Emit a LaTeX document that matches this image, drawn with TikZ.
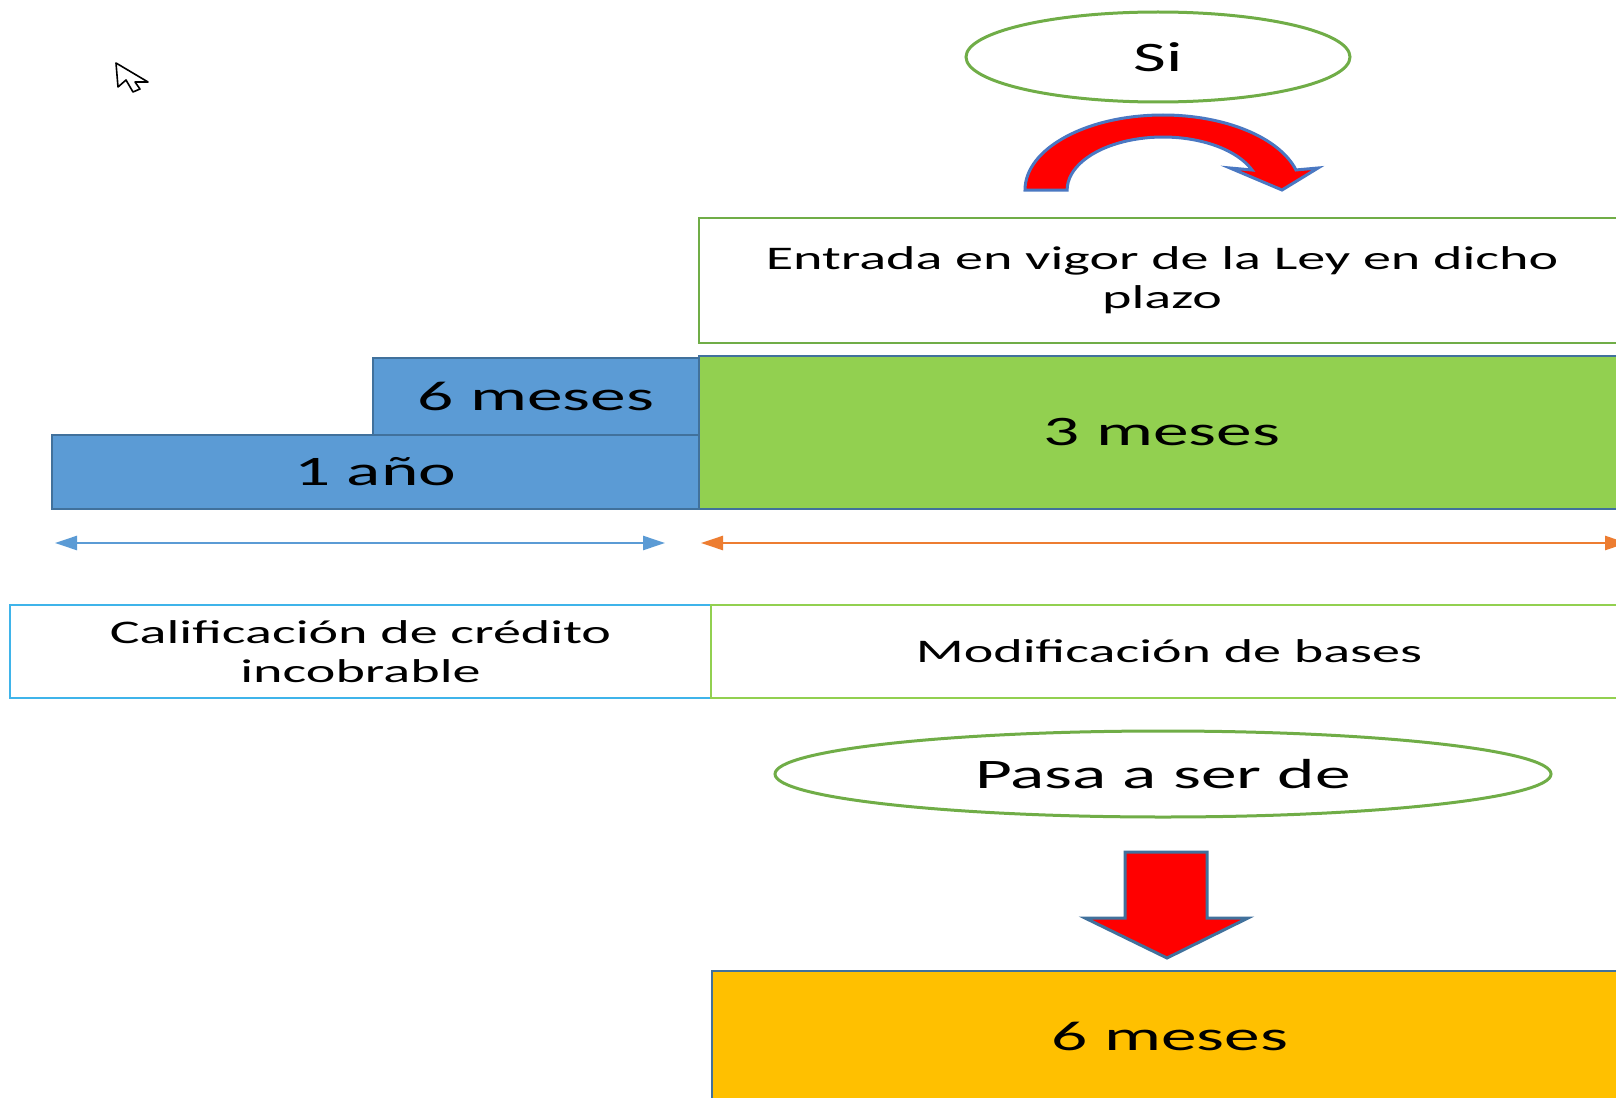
\documentclass[tikz,border=0pt]{standalone}
\usepackage{fontspec}
\setmainfont{Carlito}[FakeStretch=1.7]
\usetikzlibrary{arrows.meta,shapes.geometric}
\definecolor{blueF}{HTML}{5B9BD5}
\definecolor{blueD}{HTML}{41719C}
\definecolor{greenF}{HTML}{92D050}
\definecolor{greenL}{HTML}{70AD47}
\definecolor{orangeF}{HTML}{FFC000}
\definecolor{cyanL}{HTML}{3FB4EA}
\definecolor{arrowO}{HTML}{4A78C2}
\definecolor{orangeL}{HTML}{ED7D31}
\newcommand\bigtxt{\fontsize{42}{48}\selectfont}
\newcommand\smalltxt{\fontsize{33}{39}\selectfont}
\tikzset{
  boxbase/.style={rectangle, inner sep=0pt, outer sep=0pt, anchor=north west, align=center, text=black},
  bluebox/.style={boxbase, fill=blueF, draw=blueD, line width=2.5pt, font=\bigtxt},
  greenbox/.style={boxbase, fill=greenF, draw=blueD, line width=2.5pt, font=\bigtxt},
  orangebox/.style={boxbase, fill=orangeF, draw=blueD, line width=2.5pt, font=\bigtxt},
  labelbox/.style={boxbase, fill=white, line width=2.5pt, font=\smalltxt},
  oval/.style={ellipse, draw=greenL, fill=white, line width=3pt, inner sep=0pt, font=\bigtxt},
  fatarrow/.style={fill=red, draw=arrowO, line width=3pt, line join=miter},
  span/.style={line width=2.5pt, {Triangle[length=22pt,width=14pt]}-{Triangle[length=22pt,width=14pt]}}
}
\begin{document}
\begin{tikzpicture}[x=1pt,y=1pt]
\useasboundingbox (0,0) rectangle (1616,-1097);
\clip (0,0) rectangle (1616,-1097);
\fill[white] (0,0) rectangle (1616,-1097);

% cursor
\draw[black, fill=white, line width=1.6pt, line join=round]
  (116,-63) -- (118,-87) -- (126,-80) -- (133,-92) -- (140,-89) -- (135,-82) -- (148,-82) -- cycle;

% "Si" ellipse
\node[oval, minimum width=384pt, minimum height=90pt] (si) at (1158,-57) {Si};

% curved arrow
\draw[fatarrow]
  (1025,-190) arc[start angle=180, end angle=15.5, x radius=138, y radius=75]
  -- (1318,-168) -- (1282,-190) -- (1230,-168)
  -- (1252,-170) arc[start angle=22.2, end angle=180, x radius=96, y radius=53]
  -- cycle;

% Entrada box
\node[labelbox, draw=greenL, minimum width=926pt, minimum height=125pt] (entrada) at (699,-218)
  {Entrada en vigor de la Ley en dicho\\plazo};

% time blocks
\node[bluebox, minimum width=326pt, minimum height=77pt] (seis) at (373,-358) {6 meses};
\node[bluebox, minimum width=647pt, minimum height=74pt] (anio) at (52,-435) {1 año};
\node[greenbox, minimum width=926pt, minimum height=153pt] (tres) at (699,-356) {3 meses};

% span arrows
\coordinate (b1) at (55,-543);
\coordinate (b2) at (665,-543);
\coordinate (o1) at (701,-543);
\coordinate (o2) at (1627,-543);
\draw[span, blueF] (b1) -- (b2);
\draw[span, orangeL] (o1) -- (o2);

% label boxes
\node[labelbox, draw=cyanL, line width=2pt, minimum width=701pt, minimum height=93pt] (calif) at (10,-605)
  {Calificación de crédito\\incobrable};
\node[labelbox, draw=greenF, line width=2.5pt, minimum width=916pt, minimum height=93pt] (modif) at (711,-605)
  {Modificación de bases};

% "Pasa a ser de" ellipse
\node[oval, minimum width=776pt, minimum height=86pt] (pasa) at (1163,-774) {Pasa a ser de};

% down arrow
\draw[fatarrow, draw=blueD]
  (1125,-852) -- (1207,-852) -- (1207,-918) -- (1248,-918) -- (1167,-958)
  -- (1085,-918) -- (1125,-918) -- cycle;

% final box
\node[orangebox, minimum width=916pt, minimum height=130pt] (final) at (712,-971) {6 meses};
\end{tikzpicture}
\end{document}
